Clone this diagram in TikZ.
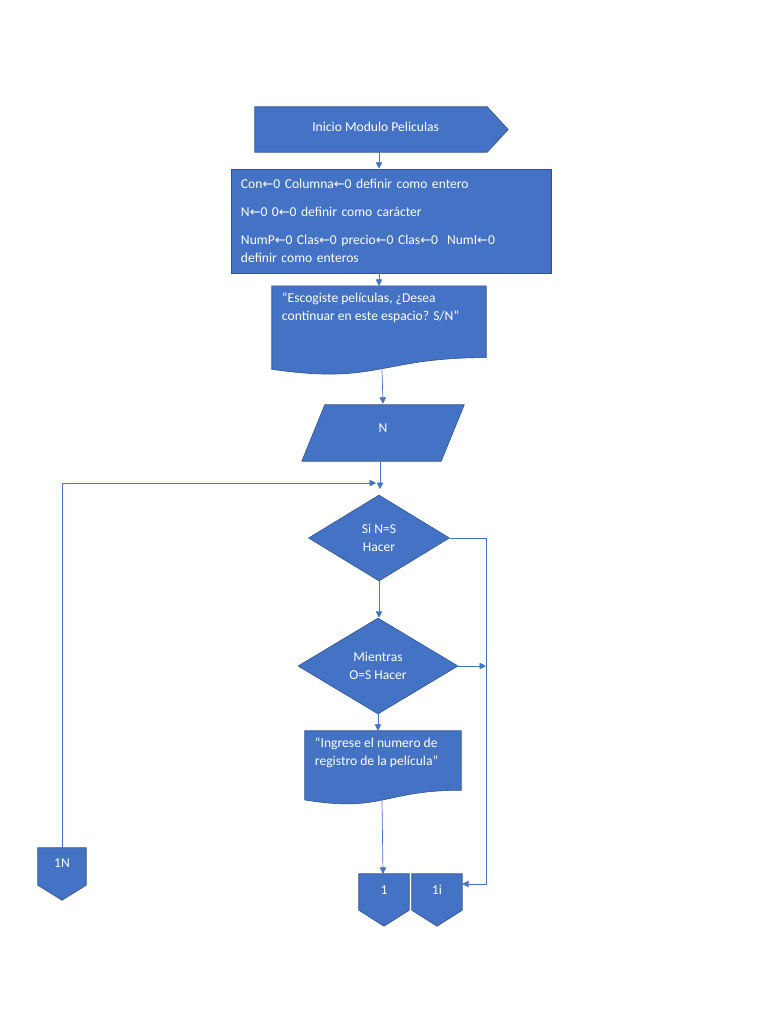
\documentclass[tikz,border=0pt]{standalone}
\usepackage{fontspec}
\setmainfont{Carlito}
\newfontfamily\symf{DejaVu Sans}
\usetikzlibrary{arrows.meta,shapes.geometric,backgrounds,calc}
\definecolor{obl}{HTML}{4472C4}
\definecolor{obd}{HTML}{2F528F}
\newcommand{\lar}{{\symf\fontsize{11}{12}\selectfont ←}}
\begin{document}
\begin{tikzpicture}[x=0.03cm,y=-0.03cm,
  font=\fontsize{11.6}{15.3}\selectfont,
  shp/.style={fill=obl, draw=obd, line width=0.5pt},
  lbl/.style={text=white, inner sep=0pt},
  ln/.style={draw=obl, line width=0.6pt},
  arr/.style={ln, -{Triangle[length=5.5pt,width=5.5pt]}},
  dia/.style={shp, diamond, text=white, align=center, inner sep=0pt, aspect=1.64}]
\useasboundingbox (0,0) rectangle (768,1024);
% nodes
\node[lbl, minimum width=6.96cm, minimum height=1.35cm] (start) at (371,129.5) {\hspace{8pt}\raisebox{4pt}{Inicio Modulo Peliculas}};
\node[shp, text=white, minimum width=9.6cm, minimum height=3.12cm, inner xsep=0.3cm, inner ysep=0pt, text width=9cm, align=left] (proc) at (391,221)
 {Con\lar0 Columna\lar0 definir como entero\\[8.5pt]
  N\lar0 0\lar0 definir como carácter\\[9pt]
  NumP\lar0 Clas\lar0 precio\lar0 Clas\lar0\ \ NumI\lar0\\
  definir como enteros};
\node[lbl, minimum width=6.42cm, minimum height=2.14cm] (doc1) at (379,321.7) {};
\node[lbl, anchor=north west, align=left] (t1) at ($(doc1.north west)+(10,7)$)
 {“Escogiste películas, ¿Desea\\continuar en este espacio? S/N”};
\node[lbl, minimum width=4.17cm, minimum height=1.68cm] (para) at (383,433) {\raisebox{9pt}{N}};
\coordinate (jn) at (380,489);
\coordinate (jl) at (376,483);
\node[dia, minimum width=4.23cm, minimum height=2.58cm] (d1) at (379,538) {Si N=S\\Hacer};
\node[dia, minimum width=4.8cm, minimum height=2.88cm] (d2) at (378,666) {Mientras\\O=S Hacer};
\coordinate (r) at (486,884);
\node[lbl, minimum width=4.68cm, minimum height=1.77cm] (doc2) at (383,760.5) {};
\node[lbl, anchor=north west, align=left] (t2) at ($(doc2.north west)+(10,7)$)
 {“Ingrese el numero de\\registro de la película”};
\node[lbl, minimum width=1.5cm, minimum height=1.08cm] (c1) at (384,892) {\raisebox{4pt}{1}};
\node[lbl, minimum width=1.5cm, minimum height=1.08cm] (c1i) at (437,892) {\raisebox{4pt}{1i}};
\node[lbl, minimum width=1.44cm, minimum height=1.11cm] (c1N) at (62,866.5) {\raisebox{5pt}{1N}};
% shapes on background
\begin{scope}[on background layer]
\fill[white] (0,0) rectangle (768,1024);
\path[shp] (start.north west) -- (start.north east) -- ($(start.east)+(21,0)$) -- (start.south east) -- (start.south west) -- cycle;
\path[shp] (doc1.north west) -- (doc1.north east) -- (doc1.south east)
  .. controls (doc1.south) and ($(doc1.south)+(0,27.2)$) .. ($(doc1.south west)+(0,11.7)$) -- cycle;
\path[shp] ($(para.north west)+(11.5,0)$) -- ($(para.north east)+(11.5,0)$) -- ($(para.south east)+(-11.5,0)$) -- ($(para.south west)+(-11.5,0)$) -- cycle;
\path[shp] (doc2.north west) -- (doc2.north east) -- (doc2.south east)
  .. controls (doc2.south) and ($(doc2.south)+(0,22.5)$) .. ($(doc2.south west)+(0,9.7)$) -- cycle;
\path[shp] (c1.north west) -- (c1.north east) -- (c1.south east) -- ($(c1.south)+(0,16)$) -- (c1.south west) -- cycle;
\path[shp] (c1i.north west) -- (c1i.north east) -- (c1i.south east) -- ($(c1i.south)+(0,16)$) -- (c1i.south west) -- cycle;
\path[shp] (c1N.north west) -- (c1N.north east) -- (c1N.south east) -- ($(c1N.south)+(0,15)$) -- (c1N.south west) -- cycle;
\end{scope}
% connectors
\draw[arr] (start.south -| doc1.south) -- (proc.north -| doc1.south);
\draw[arr] (proc.south -| doc1.south) -- (doc1.north);
\draw[arr] ($(doc1.south)+(3,12)$) -- ($(para.north)+(0,-1)$);
\draw[arr] (para.south -| jn) -- (jn);
\draw[arr] (c1N.north) |- (jl);
\draw[arr] (d1.east) -| (r) -- (r -| c1i.east);
\draw[arr] (d1.south) -- (d1.south |- d2.north);
\draw[arr] (d2.east) -- (d2.east -| r);
\draw[arr] (d2.south) -- (d2.south |- doc2.north);
\draw[arr] ($(doc2.south)+(-1,10)$) -- ($(c1.north)+(-1,0)$);
\end{tikzpicture}
\end{document}
